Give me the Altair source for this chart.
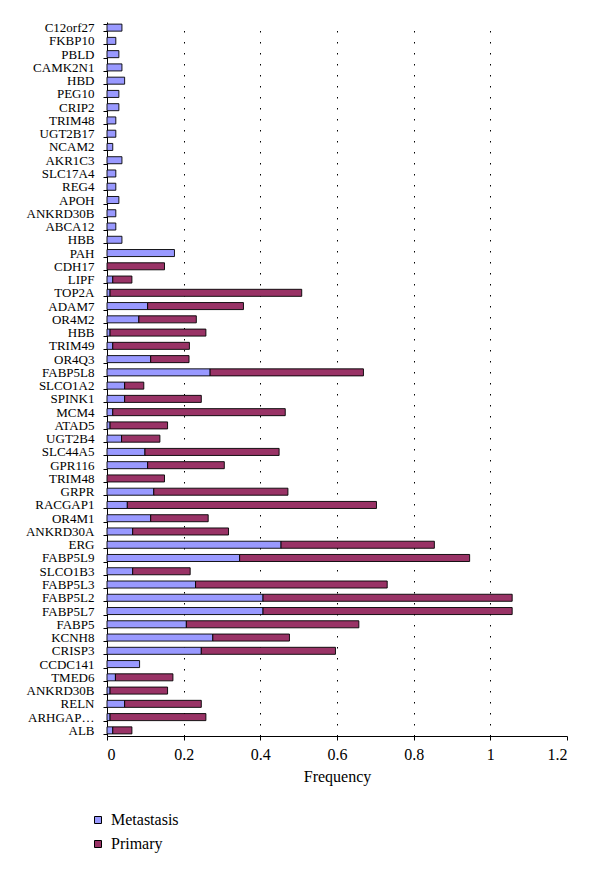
import altair as alt
import pandas as pd
import json

genes = ["C12orf27", "FKBP10", "PBLD", "CAMK2N1", "HBD", "PEG10", "CRIP2", "TRIM48",
         "UGT2B17", "NCAM2", "AKR1C3", "SLC17A4", "REG4", "APOH", "ANKRD30B", "ABCA12",
         "HBB", "PAH", "CDH17", "LIPF", "TOP2A", "ADAM7", "OR4M2", "HBB", "TRIM49", "OR4Q3",
         "FABP5L8", "SLCO1A2", "SPINK1", "MCM4", "ATAD5", "UGT2B4", "SLC44A5", "GPR116",
         "TRIM48", "GRPR", "RACGAP1", "OR4M1", "ANKRD30A", "ERG", "FABP5L9", "SLCO1B3",
         "FABP5L3", "FABP5L2", "FABP5L7", "FABP5", "KCNH8", "CRISP3", "CCDC141", "TMED6",
         "ANKRD30B", "RELN", "ARHGAP\u2026", "ALB"]

metastasis = [0.039, 0.023, 0.031, 0.039, 0.046, 0.031, 0.031, 0.023,
              0.023, 0.015, 0.039, 0.023, 0.023, 0.031, 0.023, 0.023,
              0.039, 0.176, 0.0, 0.015, 0.008, 0.106, 0.083, 0.008, 0.015, 0.114,
              0.269, 0.046, 0.046, 0.015, 0.008, 0.038, 0.099, 0.106,
              0.0, 0.122, 0.053, 0.114, 0.067, 0.454, 0.346, 0.067,
              0.231, 0.407, 0.407, 0.207, 0.276, 0.246, 0.085, 0.022,
              0.008, 0.046, 0.008, 0.015]

primary = [0, 0, 0, 0, 0, 0, 0, 0,
           0, 0, 0, 0, 0, 0, 0, 0,
           0, 0, 0.15, 0.05, 0.50, 0.25, 0.15, 0.25, 0.20, 0.10,
           0.40, 0.05, 0.20, 0.45, 0.15, 0.10, 0.35, 0.20,
           0.15, 0.35, 0.65, 0.15, 0.25, 0.40, 0.60, 0.15,
           0.50, 0.65, 0.65, 0.45, 0.20, 0.35, 0.0, 0.15,
           0.15, 0.20, 0.25, 0.05]

series = ["Metastasis", "Primary"]
colors = ["#9999FF", "#993366"]

rows = []
for i, g in enumerate(genes):
    for k, (s, vals) in enumerate(zip(series, [metastasis, primary])):
        if vals[i] > 0:
            rows.append({"idx": i, "gene": g, "series": s, "order": k, "value": vals[i]})
df = pd.DataFrame(rows)

label_expr = json.dumps(genes, ensure_ascii=False) + "[datum.value]"

chart = alt.Chart(df).mark_bar(stroke="#000000", strokeWidth=0.9).encode(
    y=alt.Y("idx:O", sort="ascending",
            scale=alt.Scale(paddingInner=0.47, paddingOuter=0.16),
            axis=alt.Axis(title=None, labelExpr=label_expr, labelFont="Liberation Serif",
                          labelFontSize=13, labelColor="#000000", tickBand="extent",
                          tickColor="#000000", tickSize=4, domainColor="#000000",
                          labelPadding=9)),
    x=alt.X("value:Q", stack="zero",
            scale=alt.Scale(domain=[0, 1.2], nice=False),
            axis=alt.Axis(title="Frequency", values=[0, 0.2, 0.4, 0.6, 0.8, 1.0, 1.2],
                          labelExpr="datum.value == 0 ? '0' : datum.value == 1 ? '1' : format(datum.value, '.1f')",
                          labelFont="Liberation Serif", labelFontSize=16, labelColor="#000000",
                          titleFont="Liberation Serif", titleFontSize=16, titleFontWeight="normal",
                          titleColor="#000000", titlePadding=6, labelPadding=6,
                          tickColor="#000000", tickSize=4, domainColor="#000000",
                          grid=True, gridColor="#000000", gridDash=[1.5, 9.5], gridWidth=1,
                          gridOpacity={"condition": {"test": "datum.value > 0 && datum.value < 1.1", "value": 1}, "value": 0})),
    color=alt.Color("series:N", scale=alt.Scale(domain=series, range=colors),
                    legend=alt.Legend(title=None, orient="none", legendX=-17, legendY=790,
                                      symbolType="square", symbolSize=49, symbolStrokeColor="#000000",
                                      symbolStrokeWidth=1, labelFont="Liberation Serif",
                                      labelFontSize=16, labelColor="#000000", rowPadding=8,
                                      padding=0, labelOffset=5)),
    order=alt.Order("order:Q", sort="ascending"),
).properties(
    width=460, height=714,
    autosize=alt.AutoSizeParams(type="none"),
    padding={"left": 99, "top": 14, "right": 24, "bottom": 130},
).configure_view(stroke=None)

chart.save("out.html", embed_options={"renderer": "svg", "actions": False})
